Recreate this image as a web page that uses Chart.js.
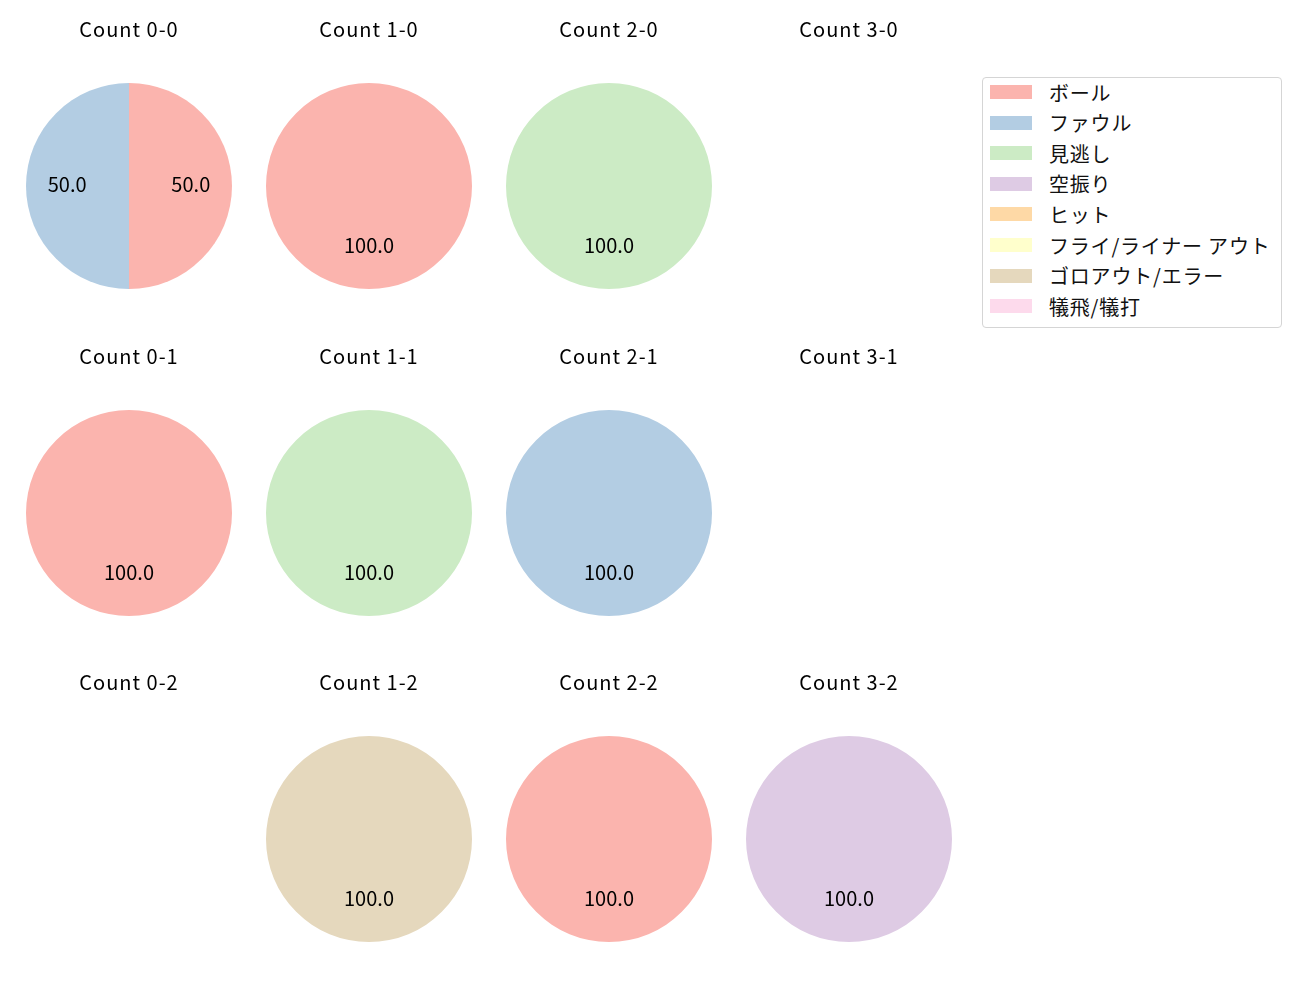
<!DOCTYPE html>
<html>
<head>
<meta charset="utf-8">
<script src="https://cdn.jsdelivr.net/npm/chart.js@4.4.1/dist/chart.umd.min.js"></script>
<style>
    body { margin: 0; background: #fff; width: 1300px; height: 1000px; position: relative; overflow: hidden; }
    .cell { position: absolute; width: 240px; height: 279px; }
    .legend { position: absolute; left: 982px; top: 77px; width: 300px; height: 251px; border: 1px solid #d5d5d5; border-radius: 4px; box-sizing: border-box; font-family: "Noto Sans CJK JP", sans-serif; font-size: 20px; letter-spacing: 0.8px; color: #111; }
    .legend-item { position: absolute; left: 7px; height: 24px; display: flex; align-items: center; }
    .legend-item .box { width: 42px; height: 14px; margin-right: 17px; }
</style>
</head>
<body>
<div id="legend" class="legend"></div>
<script>
// ============================================
// Count pies
// ============================================

const FONT = '"Noto Sans CJK JP", sans-serif';

const categories = ['ボール', 'ファウル', '見逃し', '空振り', 'ヒット', 'フライ/ライナー アウト', 'ゴロアウト/エラー', '犠飛/犠打'];
const colors = ['#fbb4ae', '#b3cde3', '#ccebc5', '#decbe4', '#fed9a6', '#ffffcc', '#e5d8bd', '#fddaec'];

// counts per category, one array per count (balls-strikes)
const countLabels = ['0-0', '1-0', '2-0', '3-0', '0-1', '1-1', '2-1', '3-1', '0-2', '1-2', '2-2', '3-2'];
const count00 = [1, 1, 0, 0, 0, 0, 0, 0];
const count10 = [1, 0, 0, 0, 0, 0, 0, 0];
const count20 = [0, 0, 1, 0, 0, 0, 0, 0];
const count30 = [0, 0, 0, 0, 0, 0, 0, 0];
const count01 = [1, 0, 0, 0, 0, 0, 0, 0];
const count11 = [0, 0, 1, 0, 0, 0, 0, 0];
const count21 = [0, 1, 0, 0, 0, 0, 0, 0];
const count31 = [0, 0, 0, 0, 0, 0, 0, 0];
const count02 = [0, 0, 0, 0, 0, 0, 0, 0];
const count12 = [0, 0, 0, 0, 0, 0, 1, 0];
const count22 = [1, 0, 0, 0, 0, 0, 0, 0];
const count32 = [0, 0, 0, 1, 0, 0, 0, 0];
const countData = [count00, count10, count20, count30, count01, count11, count21, count31, count02, count12, count22, count32];

// slightly wider title letters
const spacingPlugin = {
    id: 'titleSpacing',
    beforeDraw(chart) {
        chart.ctx.letterSpacing = '1px';
    }
};

// percent labels inside the slices (like autopct='%.1f')
const pctLabelPlugin = {
    id: 'pctLabels',
    afterDatasetsDraw(chart) {
        const ctx = chart.ctx;
        const data = chart.data.datasets[0].data;
        const total = data.reduce((s, v) => s + v, 0);
        if (total === 0) return;
        const meta = chart.getDatasetMeta(0);
        ctx.save();
        ctx.letterSpacing = '0px';
        ctx.font = '20px ' + FONT;
        ctx.fillStyle = '#000';
        ctx.textAlign = 'center';
        ctx.textBaseline = 'middle';
        meta.data.forEach((arc, i) => {
            if (!data[i]) return;
            const p = arc.getProps(['x', 'y', 'startAngle', 'endAngle', 'outerRadius'], true);
            const mid = (p.startAngle + p.endAngle) / 2;
            const r = p.outerRadius * 0.6;
            const pct = (data[i] / total * 100).toFixed(1);
            ctx.fillText(pct, p.x + Math.cos(mid) * r, p.y + Math.sin(mid) * r - 2);
        });
        ctx.restore();
    }
};

function renderPies() {
    countData.forEach((values, idx) => {
        const col = idx % 4;
        const row = Math.floor(idx / 4);
        const div = document.createElement('div');
        div.className = 'cell';
        div.style.left = (129 + col * 240 - 120) + 'px';
        div.style.top = (10 + row * 326.5) + 'px';
        const canvas = document.createElement('canvas');
        div.appendChild(canvas);
        document.body.appendChild(div);

        new Chart(canvas.getContext('2d'), {
            type: 'pie',
            data: {
                labels: categories,
                datasets: [{
                    data: values,
                    backgroundColor: colors,
                    borderWidth: 0
                }]
            },
            options: {
                responsive: true,
                maintainAspectRatio: false,
                animation: false,
                layout: { padding: { left: 17, right: 17, top: 0, bottom: 0 } },
                plugins: {
                    legend: { display: false },
                    tooltip: { enabled: false },
                    title: {
                        display: true,
                        text: 'Count ' + countLabels[idx],
                        color: '#000',
                        font: { family: FONT, size: 20, weight: 'normal', lineHeight: 1.2 },
                        padding: { top: 7, bottom: 42 }
                    }
                }
            },
            plugins: [spacingPlugin, pctLabelPlugin]
        });
    });
}

function renderLegend() {
    const legend = document.getElementById('legend');
    categories.forEach((name, i) => {
        const item = document.createElement('div');
        item.className = 'legend-item';
        item.style.top = (2 + i * 30.6) + 'px';
        item.innerHTML = '<span class="box" style="background:' + colors[i] + '"></span><span>' + name + '</span>';
        legend.appendChild(item);
    });
}

renderPies();
renderLegend();
</script>
</body>
</html>
